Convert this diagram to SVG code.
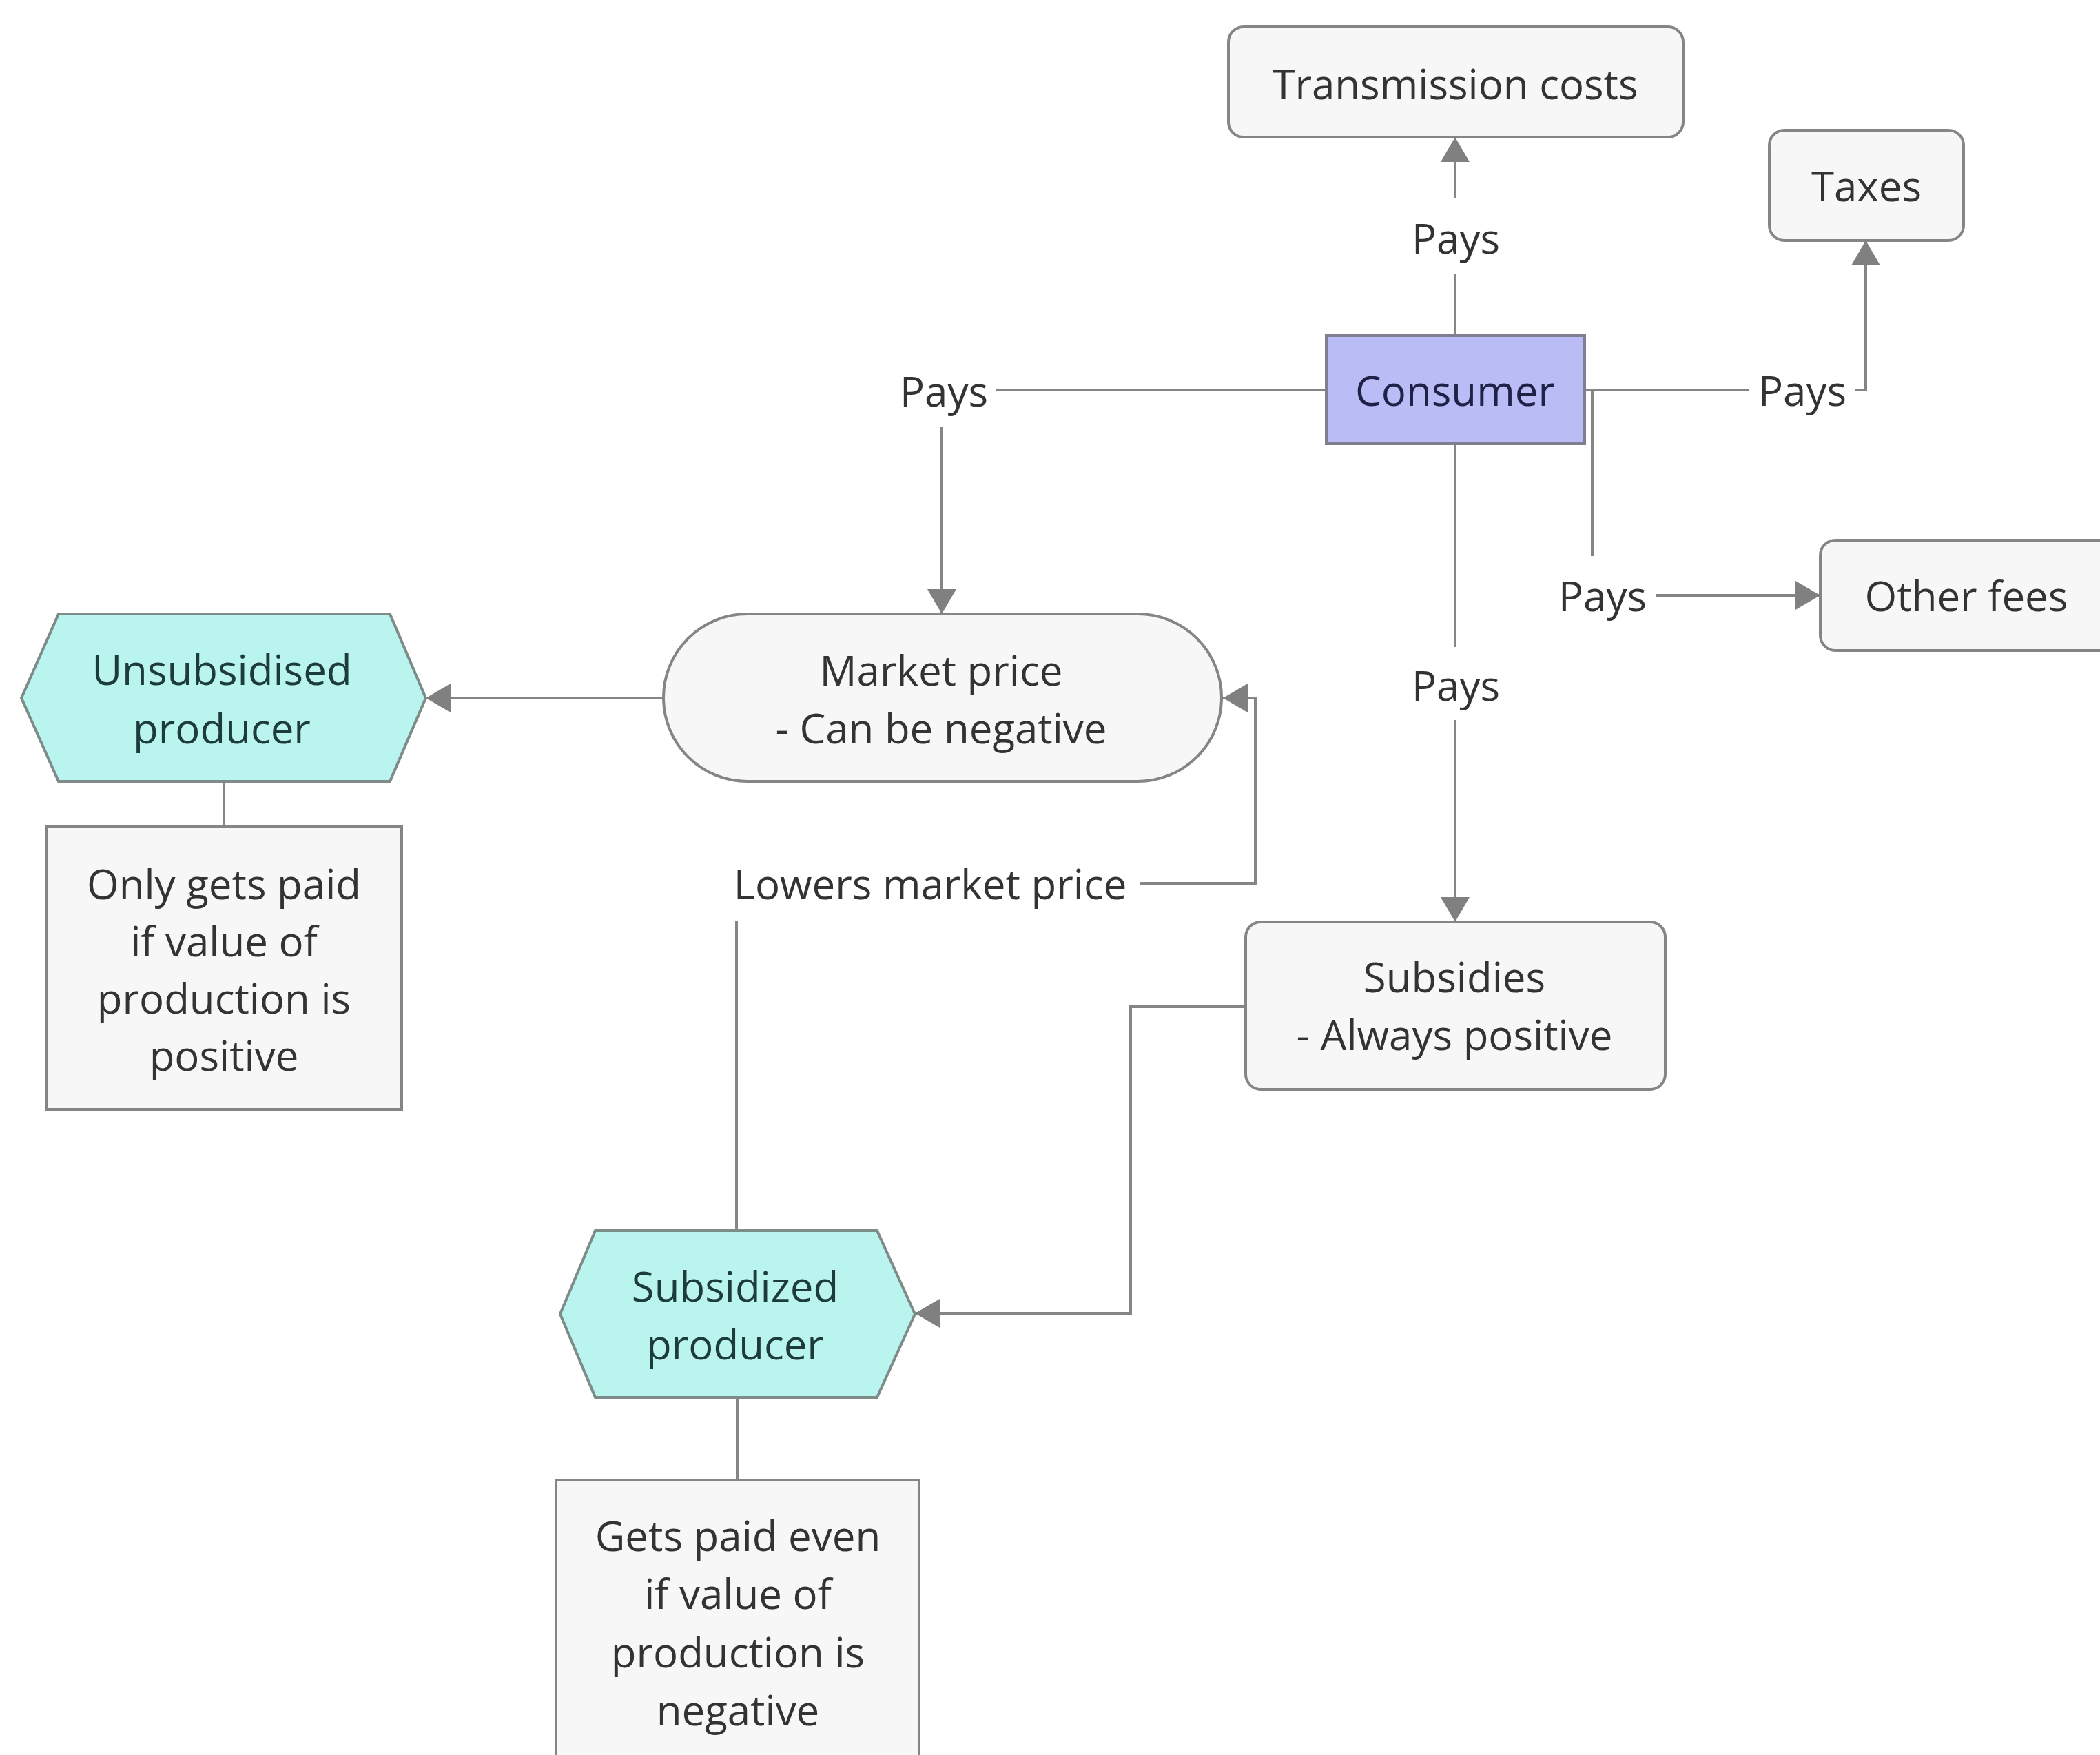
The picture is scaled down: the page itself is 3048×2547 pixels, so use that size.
<svg xmlns="http://www.w3.org/2000/svg" width="3048" height="2547" viewBox="0 0 3048 2547">
<style>
  .box{fill:#f7f7f7;stroke:#858585;stroke-width:4}
  .hex{fill:#b9f5ee;stroke:#7d8b89;stroke-width:4}
  .cons{fill:#babcf6;stroke:#7f7f90;stroke-width:4}
  .t{font-family:"Open Sans","Liberation Sans",sans-serif;font-size:60px;fill:#333;text-anchor:middle}
  .th{fill:#1e3b3b}
  .tc{fill:#1f2147}
  .c{fill:none;stroke:#858585;stroke-width:4}
  .ca{fill:none;stroke:#858585;stroke-width:4;marker-end:url(#arr)}
</style>
<defs>
  <marker id="arr" viewBox="0 0 36 42" markerWidth="36" markerHeight="42" refX="36" refY="21" orient="auto" markerUnits="userSpaceOnUse">
    <path d="M0,0 L36,21 L0,42 Z" fill="#808080"/>
  </marker>
</defs>
<rect width="3048" height="2547" fill="#ffffff"/>
<g id="connectors">
  <path class="c" d="M2112,487 V397"/>
  <path class="ca" d="M2112,288 V199"/>
  <path class="c" d="M2300,566 H2539"/>
  <path class="ca" d="M2692,566 H2708 V349"/>
  <path class="c" d="M2311,566 V807"/>
  <path class="ca" d="M2403,864 H2642"/>
  <path class="c" d="M1925,566 H1445"/>
  <path class="ca" d="M1367,620 V891"/>
  <path class="c" d="M2112,644 V939"/>
  <path class="ca" d="M2112,1045 V1338"/>
  <path class="ca" d="M963,1013 H618"/>
  <path class="c" d="M325,1134 V1199"/>
  <path class="c" d="M1069,1786 V1337"/>
  <path class="ca" d="M1655,1282 H1822 V1013 H1775"/>
  <path class="ca" d="M1808,1461 H1641 V1906 H1328"/>
  <path class="c" d="M1070,2028 V2148"/>
  <text class="t" x="2113" y="368">Pays</text>
  <text class="t" x="2616" y="589">Pays</text>
  <text class="t" x="2326" y="887">Pays</text>
  <text class="t" x="1370" y="590">Pays</text>
  <text class="t" x="2113" y="1017">Pays</text>
  <text class="t" x="1350" y="1305">Lowers market price</text>
</g>
<g id="transmission">
  <rect class="box" x="1783" y="39" width="660" height="160" rx="22"/>
  <text class="t" x="2112" y="144">Transmission costs</text>
</g>
<g id="taxes">
  <rect class="box" x="2568" y="189" width="282" height="160" rx="22"/>
  <text class="t" x="2709" y="292">Taxes</text>
</g>
<g id="consumer">
  <rect class="cons" x="1925" y="487" width="375" height="157"/>
  <text class="t tc" x="2112" y="589">Consumer</text>
</g>
<g id="otherfees">
  <rect class="box" x="2642" y="784" width="440" height="160" rx="22"/>
  <text class="t" x="2854" y="887">Other fees</text>
</g>
<g id="marketprice">
  <rect class="box" x="963" y="891" width="810" height="243" rx="121.5"/>
  <text class="t" x="1366" y="995">Market price</text>
  <text class="t" x="1366" y="1079">- Can be negative</text>
</g>
<g id="unsubsidised">
  <polygon class="hex" points="31,1013 85,891 566,891 618,1013 566,1134 85,1134"/>
  <text class="t th" x="322" y="994">Unsubsidised</text>
  <text class="t th" x="322" y="1079">producer</text>
</g>
<g id="unsubnote">
  <rect class="box" x="68" y="1199" width="515" height="411"/>
  <text class="t" x="325" y="1305">Only gets paid</text>
  <text class="t" x="325" y="1388">if value of</text>
  <text class="t" x="325" y="1471">production is</text>
  <text class="t" x="325" y="1554">positive</text>
</g>
<g id="subsidies">
  <rect class="box" x="1808" y="1338" width="609" height="243" rx="22"/>
  <text class="t" x="2111" y="1440">Subsidies</text>
  <text class="t" x="2111" y="1524">- Always positive</text>
</g>
<g id="subsidized">
  <polygon class="hex" points="813,1907 864,1786 1273,1786 1328,1907 1273,2028 864,2028"/>
  <text class="t th" x="1067" y="1889">Subsidized</text>
  <text class="t th" x="1067" y="1973">producer</text>
</g>
<g id="subnote">
  <rect class="box" x="807" y="2148" width="527" height="430"/>
  <text class="t" x="1071" y="2251">Gets paid even</text>
  <text class="t" x="1071" y="2335">if value of</text>
  <text class="t" x="1071" y="2420">production is</text>
  <text class="t" x="1071" y="2504">negative</text>
</g>
</svg>
